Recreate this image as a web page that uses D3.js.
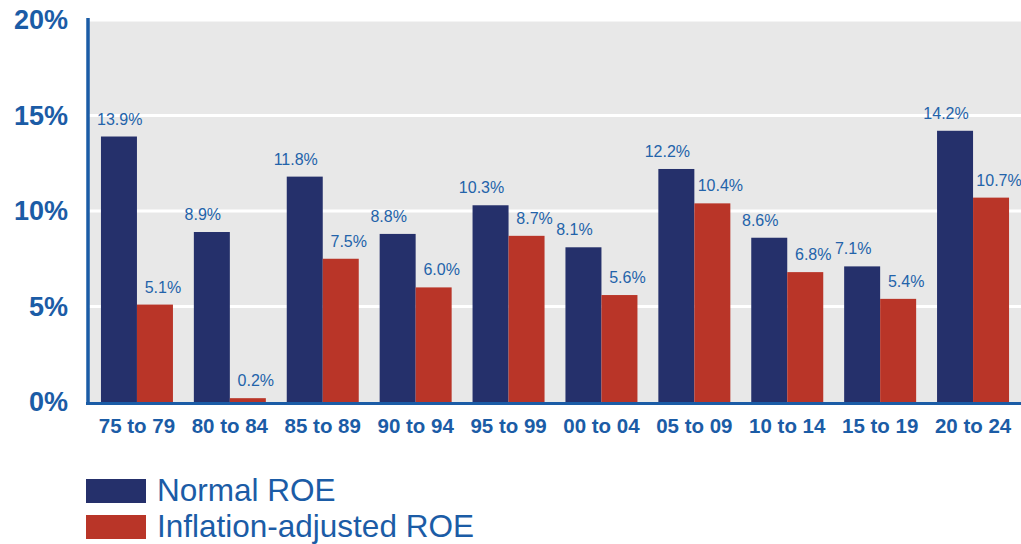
<!DOCTYPE html>
<html lang="en">
<head>
<meta charset="UTF-8">
<title>Normal vs inflation-adjusted ROE</title>
<script src="https://d3js.org/d3.v7.min.js"></script>
<style>
  body { margin: 0; background: #fff; }
  svg { display: block; font-family: "Liberation Sans", Arial, sans-serif; }
  .y-axis text { fill: #1b5ca6; font-size: 27px; font-weight: bold; }
  .x-axis text { fill: #1b5ca6; font-size: 20.5px; font-weight: bold; }
  .val { fill: #2363aa; font-size: 16px; }
  .legend text { fill: #1b5ca6; font-size: 31.5px; }
</style>
</head>
<body>
<script>
const periods = ['75 to 79', '80 to 84', '85 to 89', '90 to 94', '95 to 99',
                 '00 to 04', '05 to 09', '10 to 14', '15 to 19', '20 to 24'];
const normalROE = [13.9, 8.9, 11.8, 8.8, 10.3, 8.1, 12.2, 8.6, 7.1, 14.2];
const inflationROE = [5.1, 0.2, 7.5, 6.0, 8.7, 5.6, 10.4, 6.8, 5.4, 10.7];
const yTicks = [0, 5, 10, 15, 20];
const seriesNames = ['Normal ROE', 'Inflation-adjusted ROE'];
const colors = ['#25306b', '#b93528'];

const width = 1021, height = 544;
const svg = d3.select('body').append('svg').attr('width', width).attr('height', height);

const y = d3.scaleLinear().domain([0, 20]).range([402, 20]);
const x = d3.scaleBand().domain(periods).range([90.5, 1019.5])
  .paddingInner(0.225).paddingOuter(0.1125);
const xs = d3.scaleBand().domain([0, 1]).range([0, x.bandwidth()]);

// plot background
svg.append('rect').attr('x', 89).attr('y', y(20)).attr('width', width - 89)
  .attr('height', y(0) - y(20)).attr('fill', '#e8e8e8');

// gridlines
svg.append('g').selectAll('line').data(yTicks.filter(d => d > 0)).join('line')
  .attr('x1', 89).attr('x2', width)
  .attr('y1', d => y(d)).attr('y2', d => y(d))
  .attr('stroke', '#fff').attr('stroke-width', 3);

// y axis labels
svg.append('g').attr('class', 'y-axis').attr('transform', 'translate(68,0)')
  .call(d3.axisLeft(y).tickValues(yTicks).tickFormat(d => d + '%').tickSize(0).tickPadding(0))
  .call(g => g.select('.domain').remove())
  .selectAll('text').attr('dy', '0.33em').attr('font-family', null).attr('font-size', null);

// bars
const groups = svg.append('g').selectAll('g').data(periods).join('g')
  .attr('transform', d => `translate(${x(d)},0)`);

groups.selectAll('rect')
  .data((d, i) => [normalROE[i], inflationROE[i]])
  .join('rect')
  .attr('x', (d, j) => xs(j))
  .attr('width', xs.bandwidth())
  .attr('y', d => y(d))
  .attr('height', d => y(0) - y(d))
  .attr('fill', (d, j) => colors[j]);

// value labels: normal ones nudged left, inflation ones nudged right
const nudge = [-9, 8];
groups.selectAll('text')
  .data((d, i) => [normalROE[i], inflationROE[i]])
  .join('text')
  .attr('class', 'val')
  .attr('x', (d, j) => xs(j) + xs.bandwidth() / 2 + nudge[j])
  .attr('y', d => y(d) - 12)
  .attr('text-anchor', 'middle')
  .text(d => d.toFixed(1) + '%');

// keep labels clear of the y axis
groups.selectAll('text').each(function () {
  const gx = x(d3.select(this.parentNode).datum());
  const b = this.getBBox();
  if (gx + b.x < 97) {
    d3.select(this).attr('x', +d3.select(this).attr('x') + (97 - gx - b.x));
  }
});

// axis lines
svg.append('line').attr('x1', 88).attr('x2', 88).attr('y1', 18).attr('y2', 405)
  .attr('stroke', '#1b5ca6').attr('stroke-width', 3.5);
svg.append('line').attr('x1', 86).attr('x2', width).attr('y1', 403.5).attr('y2', 403.5)
  .attr('stroke', '#1b5ca6').attr('stroke-width', 3);

// x axis labels
svg.append('g').attr('class', 'x-axis').attr('transform', 'translate(0,418)')
  .call(d3.axisBottom(x).tickSize(0).tickPadding(0))
  .call(g => g.select('.domain').remove())
  .selectAll('text').attr('dy', '0.71em').attr('font-family', null).attr('font-size', null);

// legend
const legend = svg.append('g').attr('class', 'legend');
const ly = [479, 515];
seriesNames.forEach((name, i) => {
  legend.append('rect').attr('x', 86).attr('y', ly[i]).attr('width', 60).attr('height', 24)
    .attr('fill', colors[i]);
  legend.append('text').attr('x', 157).attr('y', ly[i] + 22).text(name);
});
</script>
</body>
</html>
